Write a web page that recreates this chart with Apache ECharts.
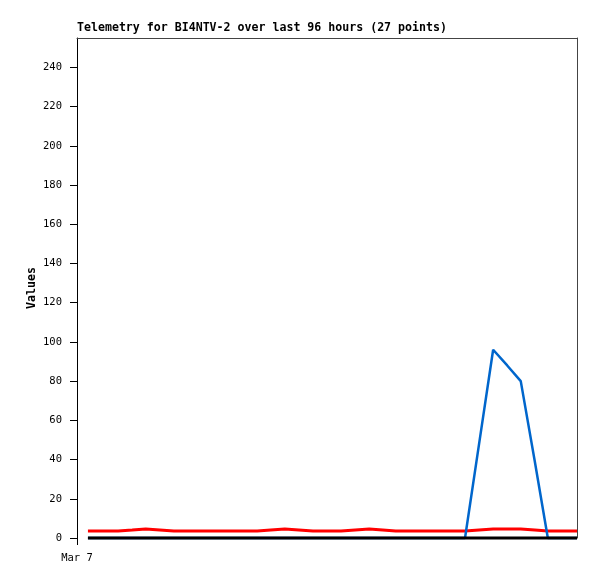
<!DOCTYPE html>
<html>
<head>
<meta charset="utf-8">
<script src="https://cdn.jsdelivr.net/npm/echarts@6/dist/echarts.min.js"></script>
<style>
  html, body { margin: 0; padding: 0; background: #fff; }
  #chart { width: 597px; height: 579px; }
</style>
</head>
<body>
<div id="chart"></div>
<script>
// hours since start of the 96 h window (Mar 7 at 0)
const hours = [2.1, 5.2, 7.9, 10.6, 13.2, 15.9, 18.6, 26.5, 34.6, 37.2, 39.9, 42.6, 45.3,
  50.7, 53.4, 56.1, 58.7, 61.2, 67.8, 74.5, 77.2, 79.9, 82.6, 85.2, 87.9, 90.4, 96];
const redVals = [3.6, 3.6, 3.6, 4.1, 4.6, 4.1, 3.6, 3.6, 3.6, 4.1, 4.6, 4.1, 3.6,
  3.6, 4.1, 4.6, 4.1, 3.6, 3.6, 3.6, 4.1, 4.6, 4.6, 4.6, 4.1, 3.6, 3.6];
const blueVals = [0, 0, 0, 0, 0, 0, 0, 0, 0, 0, 0, 0, 0,
  0, 0, 0, 0, 0, 0, 0, 48, 96, 88, 80, 39, 0, 0];
const blackVals = [0, 0, 0, 0, 0, 0, 0, 0, 0, 0, 0, 0, 0,
  0, 0, 0, 0, 0, 0, 0, 0, 0, 0, 0, 0, 0, 0];
const xLabels = ['Mar 7'];
const titleText = 'Telemetry for BI4NTV-2 over last 96 hours (27 points)';

const mono = 'DejaVu Sans Mono';
const frameColor = '#444';

function pairs(vals) {
  return hours.map((h, i) => [h, vals[i]]);
}

const chart = echarts.init(document.getElementById('chart'));
const option = {
  animation: false,
  backgroundColor: '#fff',
  textStyle: { fontFamily: mono },
  title: {
    text: titleText,
    left: 77,
    top: 22,
    padding: 0,
    textStyle: { fontFamily: mono, fontSize: 11.6, fontWeight: 'bold', color: '#000' }
  },
  grid: { left: 77, right: 20, top: 38, bottom: 41 },
  xAxis: [
    {
      type: 'value',
      min: 0,
      max: 96,
      axisLine: { show: false },
      splitLine: { show: false },
      axisTick: { show: true, customValues: [0], length: 7, lineStyle: { color: '#000' } },
      axisLabel: {
        customValues: [0],
        formatter: () => xLabels[0],
        margin: 15,
        color: '#000',
        fontFamily: mono,
        fontSize: 10.5
      }
    },
    {
      type: 'value',
      position: 'top',
      min: 0,
      max: 96,
      axisLine: { show: true, onZero: false, lineStyle: { color: frameColor } },
      axisTick: { show: false },
      axisLabel: { show: false },
      splitLine: { show: false }
    }
  ],
  yAxis: [
    {
      type: 'value',
      min: 0,
      max: 255,
      interval: 20,
      name: 'Values',
      nameLocation: 'middle',
      nameRotate: 90,
      nameGap: 39,
      nameMoveOverlap: false,
      nameTextStyle: { fontFamily: mono, fontSize: 11.6, fontWeight: 'bold', color: '#000' },
      axisLine: { show: true, onZero: false, lineStyle: { color: '#000' } },
      axisTick: { show: true, length: 7, lineStyle: { color: '#000' } },
      axisLabel: { margin: 15, color: '#000', fontFamily: mono, fontSize: 10.5, showMaxLabel: false },
      splitLine: { show: false }
    },
    {
      type: 'value',
      position: 'right',
      min: 0,
      max: 255,
      axisLine: { show: true, onZero: false, lineStyle: { color: frameColor } },
      axisTick: { show: false },
      axisLabel: { show: false },
      splitLine: { show: false }
    }
  ],
  series: [
    {
      name: 'red',
      type: 'line',
      data: pairs(redVals),
      showSymbol: false,
      clip: false,
      lineStyle: { color: '#ff0000', width: 3 }
    },
    {
      name: 'blue',
      type: 'line',
      data: pairs(blueVals),
      showSymbol: false,
      clip: false,
      lineStyle: { color: '#0066cc', width: 2.5 }
    },
    {
      name: 'black',
      type: 'line',
      data: pairs(blackVals),
      showSymbol: false,
      clip: false,
      lineStyle: { color: '#000', width: 3 }
    }
  ]
};
chart.setOption(option);
</script>
</body>
</html>
